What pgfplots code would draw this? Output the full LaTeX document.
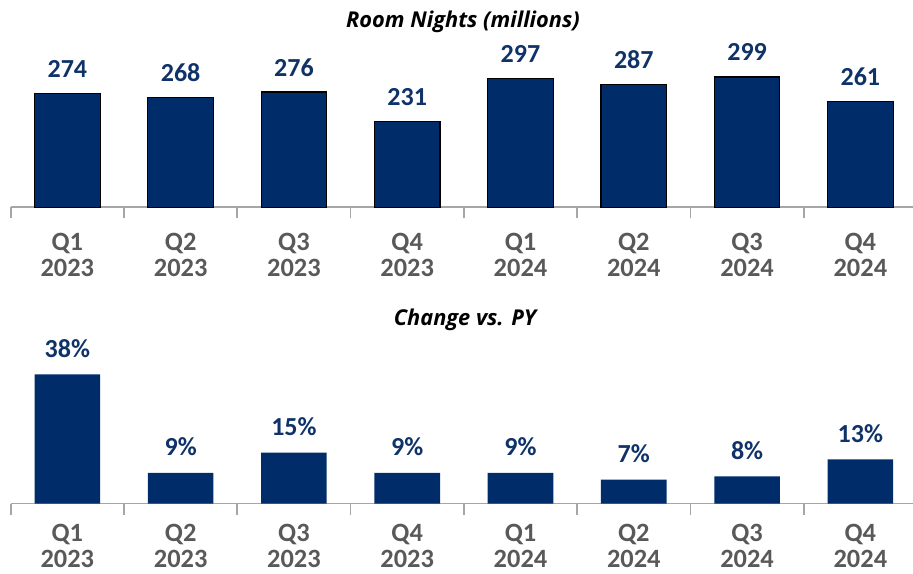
\documentclass[border=0pt]{standalone}
\usepackage{pgfplots}
\pgfplotsset{compat=1.18}
\usepackage{fontspec}
\setmainfont{Carlito}
\newfontfamily\titlefont{Open Sans}
\definecolor{barblue}{HTML}{002D6A}
\definecolor{valblue}{HTML}{0F3368}
\definecolor{lblgrey}{HTML}{595959}
\definecolor{axgrey}{HTML}{A6A6A6}
\pgfplotsset{
  panel/.style={
    scale only axis,
    width=453.15pt,
    xmin=-0.5, xmax=7.5,
    axis x line=bottom,
    axis y line=none,
    axis line style={draw=axgrey, line width=0.8pt, -},
    x tick label as interval,
    xtick={-0.5,0.5,...,7.5},
    xticklabels={{Q1\\2023},{Q2\\2023},{Q3\\2023},{Q4\\2023},{Q1\\2024},{Q2\\2024},{Q3\\2024},{Q4\\2024}},
    tick align=outside,
    major tick length=5.5pt,
    xtick style={draw=axgrey, line width=0.8pt},
    xticklabel style={align=center, font=\fontsize{13.2pt}{13pt}\selectfont\bfseries, text=lblgrey, inner sep=0pt},
    ybar,
    bar width=32.8pt,
    clip=false,
    nodes near coords,
    point meta=y,
    /pgf/number format/assume math mode=true,
    nodes near coords style={font=\fontsize{13pt}{15pt}\selectfont\bfseries, text=valblue, anchor=base, inner sep=0pt},
  }
}
\begin{document}
\begin{tikzpicture}
\useasboundingbox (0,0) rectangle (456.5pt,286.5pt);
\begin{axis}[panel,
  at={(5.35pt,182.85pt)}, anchor=south west,
  height=81.875pt, ymin=100, ymax=350,
  xticklabel style={yshift=-7pt},
  nodes near coords style={yshift=8pt},
]
\addplot[fill=barblue, draw=black, line width=0.6pt] coordinates {
(0,274) (1,268) (2,276) (3,231) (4,297) (5,287) (6,299) (7,261)};
\end{axis}
\begin{axis}[panel,
  at={(5.35pt,34.75pt)}, anchor=south west,
  height=76.5pt, ymin=0, ymax=45,
  xticklabel style={yshift=-4.5pt, font=\fontsize{13.2pt}{13pt}\selectfont\bfseries},
  nodes near coords={\pgfmathprintnumber{\pgfplotspointmeta}\%},
  nodes near coords style={yshift=8.5pt},
]
\addplot[fill=barblue, draw=none] coordinates {
(0,38) (1,9) (2,15) (3,9) (4,9) (5,7) (6,8) (7,13)};
\end{axis}
\node[anchor=base, inner sep=0pt, font=\titlefont\fontsize{10.9pt}{12pt}\selectfont\bfseries\itshape] at (231.5pt,272.5pt) {Room Nights (millions)};
\node[anchor=base, inner sep=0pt, font=\titlefont\fontsize{10.9pt}{12pt}\selectfont\bfseries\itshape] at (232.5pt,124pt) {Change vs. PY};
\end{tikzpicture}
\end{document}
